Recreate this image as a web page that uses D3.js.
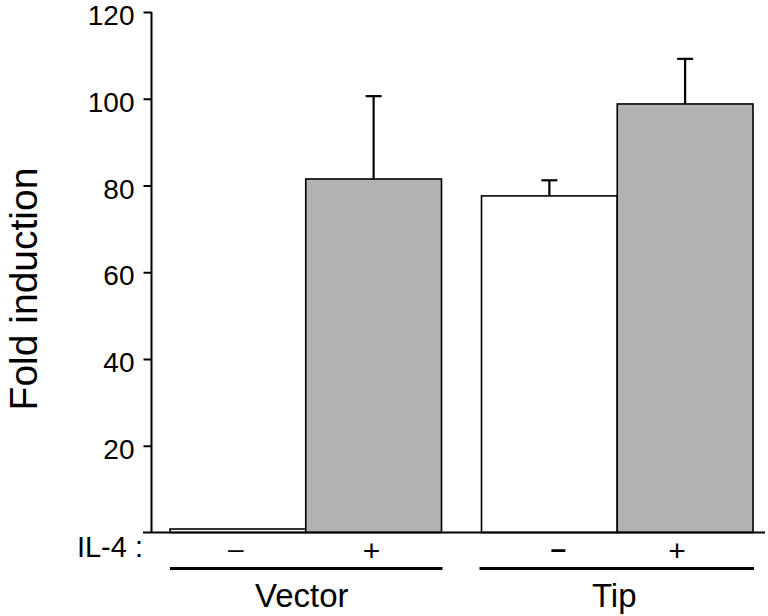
<!DOCTYPE html>
<html>
<head>
<meta charset="utf-8">
<script src="https://cdn.jsdelivr.net/npm/d3@7"></script>
<style>
  html, body { margin: 0; padding: 0; background: #fff; }
  svg { display: block; font-family: "Liberation Sans", Arial, Helvetica, sans-serif; }
</style>
</head>
<body>
<svg id="chart" width="768" height="616"></svg>
<script>
// ---- data ----
const groups = ["Vector", "Tip"];
const conditions = ["-", "+"];
const conditionLabels = ["–", "+"];
const vectorValues = [0.8, 81.5];
const tipValues = [77.6, 98.8];
const vectorErrors = [0, 19.1];
const tipErrors = [3.6, 10.4];
const yTicks = [20, 40, 60, 80, 100, 120];
const yTitle = "Fold induction";
const factorLabel = "IL-4 :";

const rows = [];
groups.forEach((g, gi) => {
  const vals = gi === 0 ? vectorValues : tipValues;
  const errs = gi === 0 ? vectorErrors : tipErrors;
  conditions.forEach((c, ci) => {
    rows.push({ group: g, cond: c, label: conditionLabels[ci], value: vals[ci], err: errs[ci] });
  });
});

// ---- layout ----
const svg = d3.select("#chart");
const axisX = 151.5;
const y = d3.scaleLinear().domain([0, 120]).range([532.5, 12]);
const x0 = d3.scaleBand().domain(groups).range([170, 753]).paddingInner(40 / 311.5).paddingOuter(0);
const x1 = d3.scaleBand().domain(conditions).range([0, x0.bandwidth()]).padding(0);
const fills = { "-": "#ffffff", "+": "#b2b2b2" };

// y axis
const yAxis = d3.axisLeft(y).tickValues(yTicks).tickSize(8).tickPadding(9).tickSizeOuter(0);
const gy = svg.append("g").attr("transform", `translate(${axisX},0)`).call(yAxis);
gy.select(".domain").attr("stroke", "#000").attr("stroke-width", 2)
  .attr("d", `M0,${y(120)}V${y(0)}`);
gy.selectAll(".tick line").attr("stroke", "#000").attr("stroke-width", 2);
gy.selectAll(".tick text").attr("fill", "#000").attr("font-size", 28)
  .attr("dy", "0.45em")
  .attr("font-family", "'Liberation Sans', Arial, sans-serif");

// y title
svg.append("text")
  .attr("transform", `translate(37,${289}) rotate(-90)`)
  .attr("text-anchor", "middle")
  .attr("font-size", 39)
  .attr("fill", "#000")
  .text(yTitle);

// bars
const gBars = svg.append("g");
gBars.selectAll("rect").data(rows).join("rect")
  .attr("x", d => x0(d.group) + x1(d.cond))
  .attr("y", d => y(d.value))
  .attr("width", x1.bandwidth())
  .attr("height", d => y(0) - y(d.value))
  .attr("fill", d => fills[d.cond])
  .attr("stroke", "#000")
  .attr("stroke-width", 1.6);

// error bars (upper only)
const errRows = rows.filter(d => d.err > 0);
const cx = d => x0(d.group) + x1(d.cond) + x1.bandwidth() / 2;
svg.append("g").selectAll("line.err").data(errRows).join("line")
  .attr("x1", cx).attr("x2", cx)
  .attr("y1", d => y(d.value)).attr("y2", d => y(d.value + d.err))
  .attr("stroke", "#000").attr("stroke-width", 2.2);
svg.append("g").selectAll("line.cap").data(errRows).join("line")
  .attr("x1", d => cx(d) - 8).attr("x2", d => cx(d) + 8)
  .attr("y1", d => y(d.value + d.err)).attr("y2", d => y(d.value + d.err))
  .attr("stroke", "#000").attr("stroke-width", 2.2);

// baseline
svg.append("line")
  .attr("x1", 143).attr("x2", 765)
  .attr("y1", y(0)).attr("y2", y(0))
  .attr("stroke", "#000").attr("stroke-width", 2);

// factor label
svg.append("text")
  .attr("x", 143).attr("y", 557)
  .attr("text-anchor", "end")
  .attr("font-size", 29)
  .attr("fill", "#000")
  .text(factorLabel);

// condition labels
svg.append("g").selectAll("text").data(rows).join("text")
  .attr("x", d => cx(d) + (d.group === "Tip" ? (d.cond === "-" ? 9 : -8) : -2))
  .attr("y", d => d.cond === "-" ? 558 : 561)
  .attr("text-anchor", "middle")
  .attr("font-size", d => d.cond === "-" ? 28 : 30)
  .attr("font-weight", d => (d.group === "Tip" && d.cond === "-") ? "bold" : "normal")
  .attr("fill", "#000")
  .text(d => d.label);

// group underlines and labels
svg.append("g").selectAll("line").data(groups).join("line")
  .attr("x1", g => x0(g) + (g === "Tip" ? -2 : 0))
  .attr("x2", g => x0(g) + x0.bandwidth() + 1)
  .attr("y1", 568.5).attr("y2", 568.5)
  .attr("stroke", "#000").attr("stroke-width", 3);

svg.append("g").selectAll("text").data(groups).join("text")
  .attr("x", g => x0(g) + x0.bandwidth() / 2 + (g === "Tip" ? -3 : -4))
  .attr("y", 607)
  .attr("text-anchor", "middle")
  .attr("font-size", 33)
  .attr("fill", "#000")
  .text(g => g);
</script>
</body>
</html>
